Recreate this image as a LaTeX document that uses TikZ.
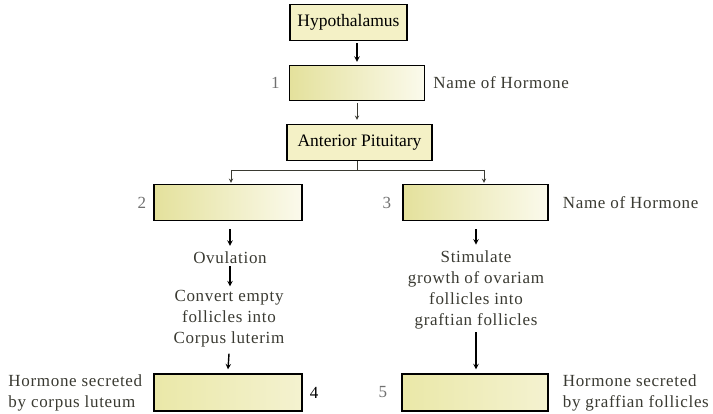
\documentclass[tikz,border=0pt]{standalone}
\usepackage{fontspec}
\setmainfont{Liberation Serif}
\newfontfamily\lblfont[LetterSpace=4]{Liberation Serif}
\usepackage{tikz}
\usetikzlibrary{positioning}

\definecolor{boxflat}{HTML}{F4F1C6}
\definecolor{boxleft}{HTML}{E4E19C}
\definecolor{boxright}{HTML}{FBFAEC}
\definecolor{boxlow}{HTML}{EAE8A8}
\definecolor{boxlowr}{HTML}{F4F2D0}
\definecolor{txtgrey}{HTML}{3A3A32}
\definecolor{numgrey}{HTML}{707070}

\tikzset{
  organ/.style={draw, line width=1.3pt, fill=boxflat, font=\fontsize{17.5}{20}\selectfont},
  hormbox/.style={draw, line width=1.3pt, left color=boxleft, right color=boxright},
  lowbox/.style={draw, line width=1.3pt, left color=boxlow, right color=boxlowr},
  lbl/.style={inner sep=0pt, text=txtgrey, font=\lblfont\fontsize{17}{21}\selectfont, align=center},
  num/.style={inner sep=0pt, text=numgrey, font=\fontsize{17}{20}\selectfont},
  flow/.style={line width=1.4pt, -stealth},
  link/.style={line width=0.9pt, draw=txtgrey}
}

\begin{document}
\begin{tikzpicture}[x=1pt, y=-1pt]
\useasboundingbox (0,0) rectangle (713,414);

% Boxes
\node[organ, minimum width=117, minimum height=36] (hyp) at (348.5,22.5) {Hypothalamus};
\node[hormbox, minimum width=135, minimum height=35] (h1) at (357,83) {};
\node[organ, minimum width=145, minimum height=36] (ap) at (359.5,142.5) {Anterior Pituitary};
\node[hormbox, minimum width=148, minimum height=36] (h2) at (228,202.5) {};
\node[hormbox, minimum width=145, minimum height=36] (h3) at (475.5,202.5) {};
\node[lowbox, minimum width=148, minimum height=37] (h4) at (228,392.5) {};
\node[lowbox, minimum width=146, minimum height=37] (h5) at (475,392.5) {};

% Numbers and side labels
\node[num] (n1) [left = 9pt of h1] {1};
\node[lbl] (name1) [right = 8pt of h1] {Name of Hormone};
\node[num] (n2) [left = 7pt of h2] {2};
\node[num] (n3) [left = 11pt of h3] {3};
\node[lbl] (name3) [right = 14pt of h3] {Name of Hormone};
\node[num, text=black] (n4) [right = 7pt of h4] {4};
\node[num] (n5) [left = 14pt of h5] {5};
\node[lbl, align=left] (sec4) [left = 11pt of h4] {Hormone secreted\\by corpus luteum};
\node[lbl, align=left] (sec5) [right = 14pt of h5] {Hormone secreted\\by graffian follicles};

% Effects
\node[lbl] (ovul) at (230,258) {Ovulation};
\node[lbl] (conv) at (229,319) {Convert empty\\follicles into\\Corpus luterim};
\node[lbl] (stim) at (476,290) {Stimulate\\growth of ovariam\\follicles into\\graftian follicles};

% Branch points
\coordinate (jn) at (357,170);
\coordinate (jl) at (231,170);
\coordinate (jr) at (484,170);

% Arrows
\draw[flow] ([yshift=-2pt]h1.north |- hyp.south) -- ([yshift=3pt]h1.north);
\draw[link, -stealth] ([yshift=-2pt]h1.south) -- ([yshift=4pt]ap.north -| h1.south);
\draw[link] (jn |- ap.south) -- (jn);
\draw[link] (jl) -- (jr);
\draw[link, -stealth] (jl) -- ([yshift=1pt]jl |- h2.north);
\draw[link, -stealth] (jr) -- ([yshift=1pt]jr |- h3.north);
\draw[flow] ([yshift=-8pt]h2.south -| ovul.north) -- ([yshift=6pt]ovul.north);
\draw[flow] ([yshift=-2pt]ovul.south) -- ([yshift=4pt]conv.north -| ovul.south);
\draw[flow] ([yshift=-6pt]conv.south) -- ([yshift=4pt]h4.north);
\draw[flow] ([yshift=-8pt]h3.south -| stim.north) -- ([yshift=6pt]stim.north);
\draw[flow] ([yshift=-3pt]stim.south) -- ([yshift=4pt]h5.north -| stim.south);

\end{tikzpicture}
\end{document}
